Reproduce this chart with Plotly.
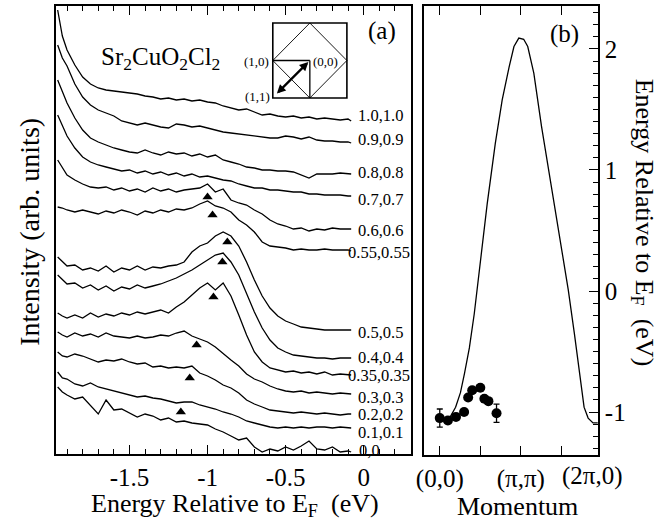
import plotly.graph_objects as go

W, H = 669, 520
FONT = "Liberation Serif"


def px(x):
    return x / W


def py(y):
    return 1 - y / H


# ---------------- panel (a): EDCs (energy in eV, intensity in arb. units, offset) -----
energy = [-1.96, -1.93, -1.90, -1.85, -1.80, -1.75, -1.70, -1.65, -1.60, -1.55,
          -1.50, -1.45, -1.40, -1.35, -1.30, -1.25, -1.20, -1.15, -1.10, -1.05,
          -1.00, -0.95, -0.90, -0.85, -0.80, -0.75, -0.70, -0.65, -0.60, -0.55,
          -0.50, -0.45, -0.40, -0.35, -0.30, -0.25, -0.20, -0.15, -0.10, -0.08]

int_10 = [444, 418, 404, 389, 377, 370, 366, 364, 363, 362, 361, 360, 358, 357, 355, 356, 354, 355, 353, 354,
          352, 351, 348, 346, 344, 345, 342, 339, 340, 338, 337, 338, 336, 337, 335, 336, 335, 334, 335, 333]
int_09 = [409, 396, 388, 370, 357, 349, 344, 341, 338, 333, 331, 329, 331, 329, 327, 326, 330, 329, 327, 328,
          326, 324, 322, 321, 320, 319, 318, 317, 316, 316, 318, 317, 315, 317, 314, 313, 313, 312, 312, 311]
int_08 = [374, 362, 351, 336, 324, 316, 312, 309, 306, 304, 302, 301, 304, 301, 299, 302, 300, 301, 298, 300,
          297, 299, 294, 292, 290, 287, 286, 284, 284, 283, 283, 282, 279, 276, 280, 280, 280, 281, 280, 280]
int_07 = [339, 328, 318, 306, 297, 292, 289, 287, 285, 283, 284, 281, 283, 280, 282, 279, 281, 278, 280, 277,
          278, 276, 274, 273, 270, 268, 266, 266, 264, 264, 263, 262, 262, 260, 260, 259, 259, 259, 258, 258]
int_06 = [294, 286, 279, 274, 270, 267, 266, 267, 264, 266, 263, 265, 262, 266, 263, 265, 262, 264, 265, 266,
          270, 262, 265, 254, 251, 249, 244, 240, 234, 230, 228, 225, 226, 223, 225, 224, 226, 225, 225, 225]
int_055 = [247, 246, 244, 242, 244, 242, 240, 243, 241, 244, 242, 239, 243, 241, 244, 242, 245, 244, 246, 250,
           253, 248, 246, 242, 234, 229, 222, 212, 208, 207, 206, 204, 205, 204, 204, 205, 204, 204, 204, 203]
int_05 = [197, 192, 188, 189, 184, 186, 183, 188, 182, 186, 184, 188, 184, 187, 186, 188, 189, 192, 202, 208,
          211, 218, 222, 218, 208, 192, 174, 158, 146, 138, 133, 130, 127, 126, 125, 124, 124, 124, 124, 124]
int_04 = [179, 174, 170, 171, 166, 169, 164, 168, 163, 167, 165, 169, 166, 168, 170, 173, 176, 180, 184, 189,
          194, 199, 201, 192, 179, 161, 142, 126, 114, 106, 102, 99, 98, 97, 96, 96, 95, 96, 96, 96]
int_035 = [141, 138, 136, 139, 136, 141, 137, 140, 138, 141, 139, 142, 140, 142, 144, 141, 147, 152, 159, 166,
           171, 164, 171, 158, 139, 119, 102, 92, 86, 84, 82, 83, 81, 82, 80, 82, 79, 80, 79, 79]
int_03 = [122, 119, 117, 121, 118, 120, 117, 121, 118, 117, 116, 118, 116, 117, 119, 118, 121, 123, 118, 115,
          112, 107, 100, 94, 88, 80, 75, 72, 68, 65, 63, 62, 63, 61, 62, 61, 60, 61, 60, 60]
int_02 = [102, 98, 97, 100, 98, 95, 92, 94, 93, 95, 92, 90, 91, 87, 88, 86, 87, 86, 88, 81,
          78, 74, 69, 66, 61, 54, 50, 47, 44, 43, 42, 41, 42, 41, 40, 41, 40, 39, 40, 40]
int_01 = [82, 76, 75, 70, 68, 71, 67, 65, 63, 61, 59, 57, 58, 56, 55, 53, 51, 52, 52, 49,
          47, 45, 42, 40, 37, 33, 31, 29, 27, 26, 27, 26, 27, 26, 27, 27, 26, 27, 26, 26]
int_00 = [67, 62, 59, 55, 57, 49, 40, 54, 44, 45, 41, 37, 40, 38, 34, 36, 32, 33, 31, 30,
          29, 25, 22, 18, 14, 16, 7, 2, 5, 3, 7, 4, 8, 13, 5, 4, 7, 2, 3, 2]

curve_labels = ["1.0,1.0", "0.9,0.9", "0.8,0.8", "0.7,0.7", "0.6,0.6", "0.55,0.55",
                "0.5,0.5", "0.4,0.4", "0.35,0.35", "0.3,0.3", "0.2,0.2", "0.1,0.1", "0,0"]
curve_data = [int_10, int_09, int_08, int_07, int_06, int_055,
              int_05, int_04, int_035, int_03, int_02, int_01, int_00]

# peak markers (triangles)
peak_E = [-1.00, -0.968, -0.873, -0.905, -0.962, -1.07, -1.114, -1.171]
peak_I = [257, 239, 212, 192, 157, 109, 76, 42]

# ---------------- panel (b): dispersion --------------------------------------------
band_k = [0.15, 0.24, 0.39, 0.51, 0.61, 0.73, 0.85, 0.93, 1.00, 1.17, 1.37, 1.54, 1.71, 1.83,
          1.95, 2.07, 2.17, 2.32, 2.51, 2.76, 2.98, 3.17, 3.32, 3.49, 3.56, 3.66, 3.78, 3.90]
band_E = [-1.09, -1.05, -0.96, -0.84, -0.68, -0.47, -0.19, 0.05, 0.26, 0.72, 1.22, 1.58, 1.85, 2.02,
          2.09, 2.08, 2.02, 1.80, 1.36, 0.86, 0.40, 0.01, -0.35, -0.76, -0.96, -1.05, -1.09, -1.09]

dots_k = [0.0, 0.2, 0.4, 0.6, 0.7, 0.8, 1.0, 1.1, 1.2, 1.4]
dots_E = [-1.05, -1.07, -1.04, -1.00, -0.88, -0.82, -0.80, -0.89, -0.91, -1.01]
dots_err = [0.075, 0, 0, 0, 0, 0, 0, 0, 0, 0.075]

for arr in curve_data:
    assert len(arr) == len(energy)

fig = go.Figure()

for lab, arr in zip(curve_labels, curve_data):
    fig.add_trace(go.Scatter(x=energy, y=arr, mode="lines",
                             line=dict(color="black", width=1.3),
                             xaxis="x", yaxis="y", hoverinfo="skip"))

fig.add_trace(go.Scatter(x=peak_E, y=peak_I, mode="markers",
                         marker=dict(symbol="triangle-up", size=9, color="black"),
                         xaxis="x", yaxis="y"))

fig.add_trace(go.Scatter(x=band_k, y=band_E, mode="lines",
                         line=dict(color="black", width=1.3), xaxis="x2", yaxis="y2"))
fig.add_trace(go.Scatter(x=dots_k, y=dots_E, mode="markers",
                         marker=dict(size=10, color="black"),
                         error_y=dict(type="data", array=dots_err, visible=True,
                                      color="black", thickness=1.3, width=3),
                         xaxis="x2", yaxis="y2"))

tick_common = dict(ticks="inside", tickcolor="black", tickwidth=1.3, ticklen=9,
                   showline=True, linewidth=2, linecolor="black",
                   showgrid=False, zeroline=False,
                   tickfont=dict(family=FONT, size=25, color="black"))

fig.update_layout(
    width=W, height=H, margin=dict(l=0, r=0, t=0, b=0),
    paper_bgcolor="white", plot_bgcolor="white", showlegend=False,
    font=dict(family=FONT, size=24, color="black"),
    xaxis=dict(domain=[px(49), px(408)], range=[-1.968, 0.304], anchor="y",
               tickmode="array", tickvals=[-1.5, -1, -0.5, 0],
               ticktext=["-1.5", "-1", "-0.5", "0"], mirror="allticks",
               minor=dict(tickmode="linear", tick0=0, dtick=0.1, ticks="inside",
                          ticklen=5, tickwidth=1.3, tickcolor="black", showgrid=False),
               **tick_common),
    yaxis=dict(domain=[py(454), py(6)], range=[0, 448], anchor="x",
               showticklabels=False, ticks="", showline=True, linewidth=2,
               linecolor="black", mirror=True, showgrid=False, zeroline=False),
    xaxis2=dict(domain=[px(421), px(597)], range=[-0.39, 3.9], anchor="y2",
                tickmode="array", tickvals=[0, 1, 2, 3],
                ticktext=["(0,0)", "", "(π,π)", ""], mirror="allticks",
                **tick_common),
    yaxis2=dict(domain=[py(455), py(6)], range=[-1.355, 2.355], anchor="x2", side="right",
                tickmode="array", tickvals=[-1, 0, 1, 2], ticktext=["-1", "0", "1", "2"],
                mirror=True,
                minor=dict(tickmode="linear", tick0=0, dtick=0.1, ticks="inside",
                           ticklen=5, tickwidth=1.3, tickcolor="black", showgrid=False),
                **tick_common),
)

ann = []


def text(x, y, s, size=26, angle=0, xanchor="center", yanchor="middle"):
    ann.append(dict(x=px(x), y=py(y), xref="paper", yref="paper", text=s, showarrow=False,
                    textangle=angle, xanchor=xanchor, yanchor=yanchor,
                    font=dict(family=FONT, size=size, color="black")))


text(22, 232, "Intensity (arb. units)", size=28, angle=-90)
text(230, 505, "Energy Relative to E<sub>F</sub>  (eV)")
text(516, 506, "Momentum")
text(643, 223, "Energy Relative to E<sub>F</sub>  (eV)", angle=90)
text(592, 476, "(2π,0)", size=25)
text(379, 31, "(a)", size=25)
text(563, 34, "(b)", size=25)
text(154, 58, "Sr<sub>2</sub>CuO<sub>2</sub>Cl<sub>2</sub>", size=25)
text(266, 61, "(1,0)", size=13, xanchor="right")
text(307, 61, "(0,0)", size=13, xanchor="left")
text(267, 96, "(1,1)", size=13, xanchor="right")

label_pos = [(352, 115), (352, 140), (352, 173), (352, 200), (352, 230), (342, 252),
             (352, 332), (352, 357), (342, 375), (352, 397), (352, 414), (352, 432), (353, 450)]
for lab, (lx, ly) in zip(curve_labels, label_pos):
    text(lx, ly, lab, size=16.5, xanchor="left")

# inset double arrow
ann.append(dict(x=px(304), y=py(62), xref="paper", yref="paper", ax=-33, ay=33,
                showarrow=True, arrowhead=2, arrowside="end+start", arrowwidth=2.2,
                arrowsize=0.8, arrowcolor="black", text=""))

fig.update_layout(annotations=ann)

# inset Brillouin-zone sketch
x0, x1, y0, y1 = 268, 343, 23, 98
xm, ym = (x0 + x1) / 2, (y0 + y1) / 2
shapes = [
    dict(type="rect", xref="paper", yref="paper", x0=px(x0), x1=px(x1), y0=py(y1), y1=py(y0),
         line=dict(color="black", width=1.6)),
    dict(type="path", xref="paper", yref="paper",
         path=f"M {px(xm)} {py(y0)} L {px(x1)} {py(ym)} L {px(xm)} {py(y1)} L {px(x0)} {py(ym)} Z",
         line=dict(color="black", width=0.9)),
    dict(type="line", xref="paper", yref="paper", x0=px(x0), x1=px(xm), y0=py(ym), y1=py(ym),
         line=dict(color="black", width=1.3)),
    dict(type="line", xref="paper", yref="paper", x0=px(xm), x1=px(xm), y0=py(ym), y1=py(y1),
         line=dict(color="black", width=1.3)),
]
fig.update_layout(shapes=shapes)

fig.write_html("out.html")
